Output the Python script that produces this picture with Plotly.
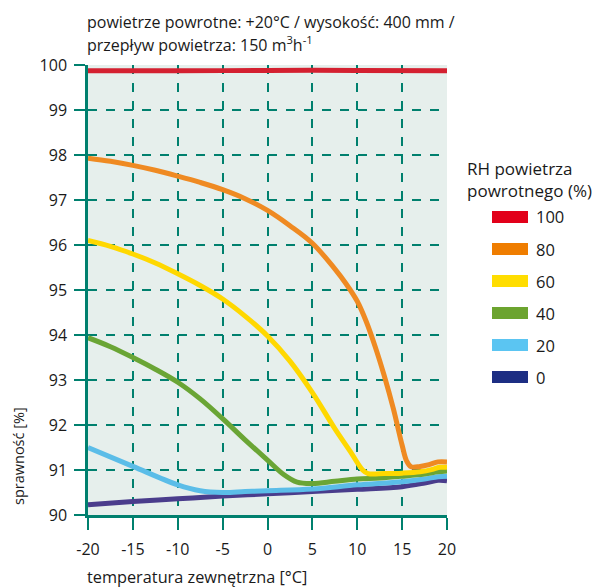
import plotly.graph_objects as go

# ---- data ----
labels = ["0", "20", "40", "60", "80", "100"]

x_0 = [-20, -15, -10, -5, 0, 5, 10, 15, 17.5, 19, 20]
y_0 = [90.23, 90.30, 90.36, 90.42, 90.47, 90.52, 90.57, 90.63, 90.71, 90.77, 90.76]

x_20 = [-20, -15, -10, -7.5, -5, -2.5, 0, 5, 10, 15, 17.5, 19, 20]
y_20 = [91.5, 91.08, 90.67, 90.54, 90.5, 90.52, 90.54, 90.58, 90.67, 90.74, 90.8, 90.85, 90.86]

x_40 = [-20, -17.5, -15, -12.5, -10, -7.5, -5, -2.5, 0, 1.8, 3.3, 5, 7.5, 10, 12.5, 15, 17.5, 19, 20]
y_40 = [93.94, 93.74, 93.5, 93.24, 92.95, 92.58, 92.14, 91.67, 91.22, 90.9, 90.73, 90.70, 90.75, 90.8, 90.82, 90.86, 90.91, 90.96, 90.98]

x_60 = [-20, -17.5, -15, -12.5, -10, -7.5, -5, -2.5, 0, 2.5, 5, 7.5, 9.2, 10.6, 11.2, 13, 15, 17, 18.5, 19.2, 20]
y_60 = [96.1, 95.97, 95.8, 95.6, 95.36, 95.1, 94.8, 94.42, 93.98, 93.42, 92.72, 91.92, 91.42, 91.0, 90.92, 90.92, 90.93, 90.96, 91.02, 91.06, 91.06]

x_80 = [-20, -17.5, -15, -12.5, -10, -7.5, -5, -2.5, 0, 2.5, 5, 7.5, 8.75, 10, 11, 12, 13, 14, 15, 15.5, 16, 17, 18, 19, 20]
y_80 = [97.93, 97.86, 97.77, 97.66, 97.53, 97.39, 97.23, 97.03, 96.77, 96.43, 96.04, 95.47, 95.14, 94.75, 94.3, 93.74, 93.1, 92.38, 91.55, 91.2, 91.07, 91.08, 91.12, 91.18, 91.18]

x_100 = [-20, -10, 0, 10, 20]
y_100 = [99.87, 99.87, 99.88, 99.88, 99.87]

xs = [x_0, x_20, x_40, x_60, x_80, x_100]
ys = [y_0, y_20, y_40, y_60, y_80, y_100]

x_ticks = [-20, -15, -10, -5, 0, 5, 10, 15, 20]
x_ticktext = ["-20", "-15", "-10", "-5", "0", "5", "10", "15", "20"]
y_ticks = [90, 91, 92, 93, 94, 95, 96, 97, 98, 99, 100]

line_colors = ["#4a3d8c", "#5bbde8", "#6aa535", "#ffd800", "#ef8a22", "#d42030"]
swatch_colors = ["#1d2e83", "#5bc5f2", "#6ca42f", "#ffdd00", "#ef7d00", "#e2001a"]

FONT = "Open Sans"
TXT = "#1a1a1a"
GRID = "#00806e"

# ---- layout geometry (pixels) ----
W, H = 595, 588
L, R, T, B = 88, 447, 65, 515


def px(x):
    return (x - L) / (R - L)


def py(y):
    return (B - y) / (B - T)


fig = go.Figure()
for xv, yv, c, lab in zip(xs, ys, line_colors, labels):
    fig.add_trace(go.Scatter(x=xv, y=yv, mode="lines", name=lab,
                             line=dict(color=c, width=5, shape="spline", smoothing=1.0),
                             showlegend=False, cliponaxis=False))

shapes = []
annotations = []

# title
annotations.append(dict(text="powietrze powrotne: +20°C / wysokość: 400 mm /",
                        x=px(85), y=py(22), xref="paper", yref="paper",
                        xanchor="left", yanchor="middle", showarrow=False,
                        font=dict(family=FONT, size=16, color=TXT)))
annotations.append(dict(text="przepływ powietrza: 150 m<sup>3</sup>h<sup>-1</sup>",
                        x=px(85), y=py(44), xref="paper", yref="paper",
                        xanchor="left", yanchor="middle", showarrow=False,
                        font=dict(family=FONT, size=16, color=TXT)))
# axis titles
annotations.append(dict(text="sprawność [%]", x=px(18), y=py(507), xref="paper", yref="paper",
                        xanchor="center", yanchor="bottom", textangle=-90, showarrow=False,
                        font=dict(family=FONT, size=14.5, color=TXT)))
annotations.append(dict(text="temperatura zewnętrzna [°C]", x=px(85), y=py(577),
                        xref="paper", yref="paper", xanchor="left", yanchor="middle",
                        showarrow=False, font=dict(family=FONT, size=16.3, color=TXT)))
# legend
annotations.append(dict(text="RH powietrza<br>powrotnego (%)", x=px(465), y=py(179.5),
                        xref="paper", yref="paper", xanchor="left", yanchor="middle",
                        align="left", showarrow=False,
                        font=dict(family=FONT, size=17, color=TXT)))
row_y = [377, 345, 313, 281, 249, 217]
for lab, c, ry in zip(labels, swatch_colors, row_y):
    shapes.append(dict(type="rect", xref="paper", yref="paper",
                       x0=px(492), x1=px(528), y0=py(ry + 6), y1=py(ry - 6),
                       fillcolor=c, line=dict(width=0)))
    annotations.append(dict(text=lab, x=px(534), y=py(ry), xref="paper", yref="paper",
                            xanchor="left", yanchor="middle", showarrow=False,
                            font=dict(family=FONT, size=16.5, color=TXT)))

fig.update_layout(
    width=W, height=H,
    margin=dict(l=L, r=W - R, t=T, b=H - B, pad=0),
    paper_bgcolor="white",
    plot_bgcolor="#e6efec",
    showlegend=False,
    shapes=shapes,
    annotations=annotations,
    font=dict(family=FONT, size=16, color=TXT),
)
fig.update_xaxes(range=[-20, 20], tickvals=x_ticks, ticktext=x_ticktext,
                 ticks="outside", ticklen=12, ticklabelstandoff=6,
                 tickwidth=2, tickcolor=GRID, showline=True, linecolor=GRID, linewidth=2.5,
                 showgrid=True, gridcolor=GRID, gridwidth=1.5, griddash="dash",
                 zeroline=False, tickfont=dict(family=FONT, size=16, color=TXT))
fig.update_yaxes(range=[90, 100], tickvals=y_ticks, ticks="outside", ticklen=11,
                 ticklabelstandoff=4,
                 tickwidth=2, tickcolor=GRID, showline=True, linecolor=GRID, linewidth=2.5,
                 showgrid=True, gridcolor=GRID, gridwidth=1.5, griddash="dash",
                 zeroline=False, tickfont=dict(family=FONT, size=16, color=TXT))

fig.write_html("out.html")
